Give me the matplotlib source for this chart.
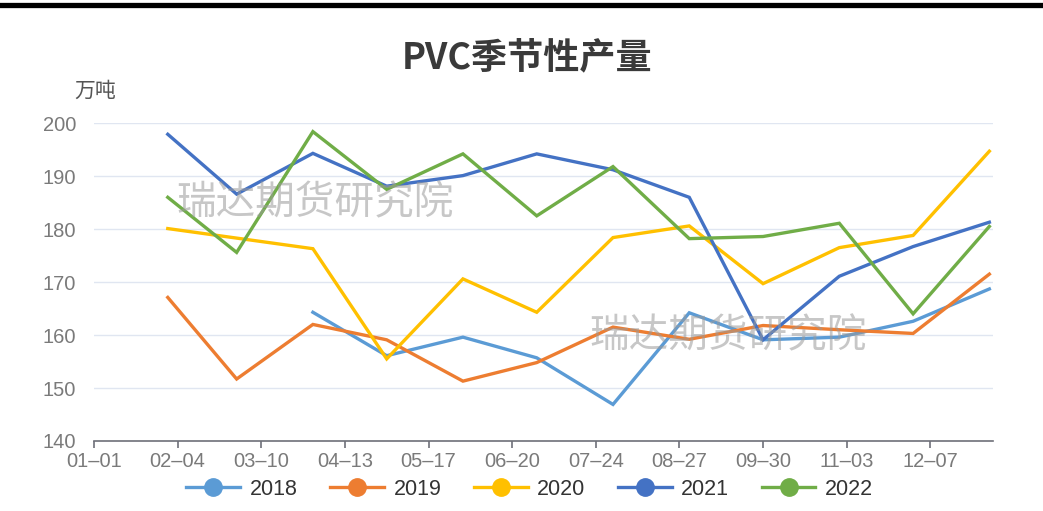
import matplotlib
matplotlib.use("Agg")
import matplotlib.pyplot as plt
from matplotlib.lines import Line2D
import pandas as pd

plt.rcParams['font.family'] = ['Liberation Sans', 'Noto Sans CJK SC', 'DejaVu Sans']

# ---- data ----
months = ["01-31", "02-28", "03-31", "04-30", "05-31", "06-30",
          "07-31", "08-31", "09-30", "10-31", "11-30", "12-31"]
s2018 = [None, None, 164.3, 156.1, 159.6, 155.7, 146.9, 164.2, 159.1, 159.6, 162.6, 168.7]
s2019 = [167.1, 151.7, 162.0, 159.1, 151.3, 154.8, 161.5, 159.2, 161.8, 161.0, 160.3, 171.5]
s2020 = [180.1, 178.3, 176.3, 155.5, 170.6, 164.3, 178.4, 180.6, 169.7, 176.5, 178.8, 194.7]
s2021 = [197.9, 186.6, 194.3, 188.1, 190.1, 194.2, 191.2, 186.0, 159.1, 171.1, 176.7, 181.3]
s2022 = [186.0, 175.6, 198.4, 187.5, 194.2, 182.5, 191.8, 178.2, 178.6, 181.1, 164.0, 180.5]
series_names = ["2018", "2019", "2020", "2021", "2022"]
series_vals = [s2018, s2019, s2020, s2021, s2022]
colors = ["#5B9BD5", "#ED7D31", "#FFC000", "#4472C4", "#70AD47"]
tick_labels = ["01-01", "02-04", "03-10", "04-13", "05-17", "06-20",
               "07-24", "08-27", "09-30", "11-03", "12-07"]
yticks = [140, 150, 160, 170, 180, 190, 200]
title = "PVC季节性产量"
unit = "万吨"
watermark = "瑞达期货研究院"

base_year = 2018
xdates = pd.to_datetime([f"{base_year}-{m}" for m in months])
tick_dates = pd.to_datetime([f"{base_year}-{t}" for t in tick_labels])

fig = plt.figure(figsize=(10.43, 5.11), dpi=100)
ax = fig.add_axes([0.0901, 0.137, 0.862, 0.622])

for name, vals, c in zip(series_names, series_vals, colors):
    y = [float('nan') if v is None else v for v in vals]
    ax.plot(xdates, y, color=c, lw=2.4, label=name, solid_joinstyle='miter')

ax.set_xlim(pd.Timestamp(f"{base_year}-01-01"), pd.Timestamp(f"{base_year+1}-01-01") + pd.Timedelta(hours=12))
ax.set_ylim(140, 200)
ax.set_yticks(yticks)
ax.set_xticks(tick_dates)
ax.set_xticklabels([t.replace("-", "\u2013") for t in tick_labels])

ax.grid(axis='y', color='#E0E6F1', lw=1)
ax.set_axisbelow(True)
for s in ['top', 'right', 'left']:
    ax.spines[s].set_visible(False)
ax.spines['bottom'].set_color('#6E7079')
ax.spines['bottom'].set_linewidth(1.2)
ax.tick_params(axis='y', length=0, labelsize=14.5, labelcolor='#7a7a7a', pad=13)
ax.tick_params(axis='x', length=5, width=1.2, color='#6E7079', labelsize=14.5,
               labelcolor='#7a7a7a', pad=3)

# watermark
ax.text(0.092, 0.748, watermark, transform=ax.transAxes, fontsize=28.5,
        color='#9a9a9a', alpha=0.55, ha='left', va='center',
        family=['Noto Sans CJK SC'])
ax.text(0.551, 0.330, watermark, transform=ax.transAxes, fontsize=28.5,
        color='#9a9a9a', alpha=0.55, ha='left', va='center',
        family=['Noto Sans CJK SC'])

fig.text(0.505, 0.886, title, ha='center', va='center', fontsize=26,
         fontweight='bold', color='#3a3a3a', family=['Noto Sans CJK SC', 'DejaVu Sans'])
fig.text(0.091, 0.823, unit, ha='center', va='center', fontsize=15,
         color='#555555', family=['Noto Sans CJK SC'])

# top border
fig.add_artist(Line2D([0, 1], [1 - 5.5 / 511, 1 - 5.5 / 511], transform=fig.transFigure,
                      color='black', lw=3.8))

handles = [Line2D([0], [0], color=c, lw=2.4, marker='o', markersize=12.5,
                  markerfacecolor=c, markeredgecolor=c) for c in colors]
fig.legend(handles, series_names, loc='center', bbox_to_anchor=(0.508, 0.043),
           ncol=5, frameon=False, fontsize=15.5, handlelength=2.5,
           handletextpad=0.45, columnspacing=1.5, labelcolor='#333333')

fig.savefig("out.png", dpi=100)
